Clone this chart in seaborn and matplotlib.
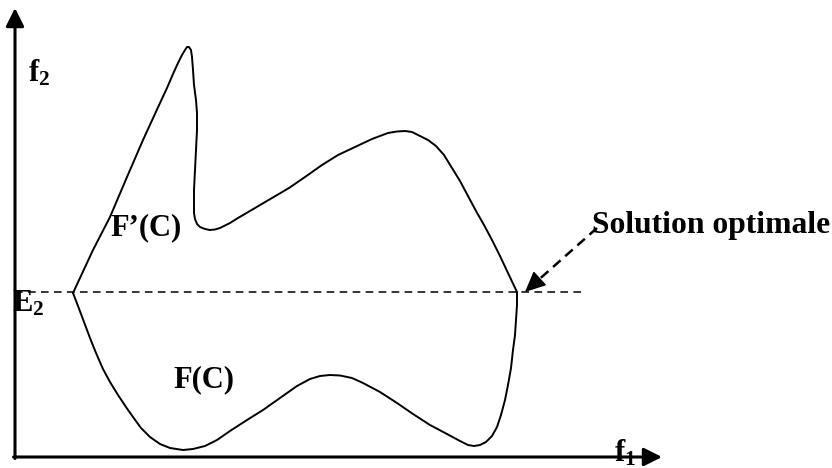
import matplotlib
matplotlib.use('Agg')
import matplotlib.pyplot as plt
import seaborn as sns
import pandas as pd

# traced outline of the feasible set (pixel-like units, y grows downward)
curve_x = [73, 93, 110, 127, 143, 160, 167, 173, 178, 182, 185, 187, 189, 191, 192, 193,
           194, 196, 197, 197, 196, 195, 194, 194, 194, 195, 197, 200, 205, 210, 215,
           220, 230, 238, 255, 272, 289, 305, 322, 338, 355, 372, 388, 397, 405, 412,
           420, 428, 436, 444, 452, 460, 468, 476, 484, 492, 500, 508, 517,
           517, 516, 515, 513, 511, 508, 505, 501, 497, 492, 486, 480, 474, 468, 460,
           447, 430, 413, 397, 380, 363, 352, 340, 330, 320, 310, 297, 280, 263, 247,
           230, 217, 205, 193, 183, 170, 160, 150, 141, 133, 126, 118, 110, 103, 96,
           90, 84, 78, 73]
curve_y = [293, 250, 217, 177, 140, 103, 88, 74, 63, 55, 50, 47, 47, 50, 57, 70,
           85, 100, 113, 130, 150, 170, 190, 205, 213, 219, 224, 227, 229, 230, 229.5,
           228, 223, 218, 208, 198, 188, 177, 165, 155, 147, 139, 133, 131.5, 131, 132,
           136, 140, 146, 155, 168, 181, 196, 211, 225, 240, 256, 273, 292,
           305, 320, 335, 350, 368, 385, 400, 415, 427, 436, 442, 445, 446, 445, 441,
           434, 425, 414, 403, 392, 383, 378, 375.5, 375, 376, 379, 386, 398, 410, 420,
           431, 440, 446, 449, 450, 448, 444, 437, 428, 417, 407, 395, 382, 369, 353,
           338, 322, 306, 293]

level_y = 292          # E2 level
level_x = [15, 583]
origin = (15, 457)
y_axis_top = 8
x_axis_end = 662
optimum = (525, 292)
note_from = (597, 228)

labels = ["F’(C)", "F(C)", "Solution optimale"]
label_pos = [(110, 235), (173, 387), (592, 233)]
label_size = [22, 22, 22.8]

sns.set_style('white')
plt.rcParams['font.family'] = ['Liberation Serif', 'DejaVu Serif']
plt.rcParams['text.color'] = 'black'
plt.rcParams['mathtext.fontset'] = 'custom'
plt.rcParams['mathtext.rm'] = 'Liberation Serif:bold'
plt.rcParams['mathtext.it'] = 'Liberation Serif:bold'
plt.rcParams['mathtext.bf'] = 'Liberation Serif:bold'

fig = plt.figure(figsize=(8.32, 4.68), dpi=100)
ax = fig.add_axes([0, 0, 1, 1])
ax.set_xlim(0, 832)
ax.set_ylim(468, 0)
ax.axis('off')

df = pd.DataFrame({'x': curve_x, 'y': curve_y})
sns.lineplot(data=df, x='x', y='y', sort=False, estimator=None, color='black', lw=1.4,
             ax=ax, solid_joinstyle='round', solid_capstyle='round')

# dashed level line
sns.lineplot(x=level_x, y=[level_y, level_y], color='black', lw=1.1, ax=ax,
             linestyle=(0, (5, 3.5)))

# axes with arrows
head = '-|>,head_length=1.1,head_width=0.55'
ax.annotate('', xy=(origin[0], y_axis_top), xytext=(origin[0], origin[1] + 1.5),
            arrowprops=dict(arrowstyle=head, lw=2.2, color='black', shrinkA=0, shrinkB=0,
                            mutation_scale=10))
ax.annotate('', xy=(x_axis_end, origin[1]), xytext=(origin[0] - 1.5, origin[1]),
            arrowprops=dict(arrowstyle=head, lw=2.2, color='black', shrinkA=0, shrinkB=0,
                            mutation_scale=10))

# dashed pointer to the optimum
ax.plot([note_from[0], optimum[0] + 10], [note_from[1], optimum[1] - 9], color='black',
        lw=1.8, linestyle=(0, (4, 2.5)))
ax.annotate('', xy=optimum, xytext=(optimum[0] + 12, optimum[1] - 11),
            arrowprops=dict(arrowstyle='-|>,head_length=1.3,head_width=0.6', lw=1.0,
                            color='black', shrinkA=0, shrinkB=0, mutation_scale=10))

for txt, (tx, ty), sz in zip(labels, label_pos, label_size):
    ax.text(tx, ty, txt, fontsize=sz, fontweight='bold', ha='left', va='baseline')
ax.text(28, 82, r'$\mathrm{f_2}$', fontsize=22, ha='left', va='baseline')
ax.text(12, 311, r'$\mathrm{E_2}$', fontsize=22, ha='left', va='baseline')
ax.text(614, 462, r'$\mathrm{f_1}$', fontsize=22, ha='left', va='baseline')

fig.savefig('out.png', dpi=100, facecolor='white')
